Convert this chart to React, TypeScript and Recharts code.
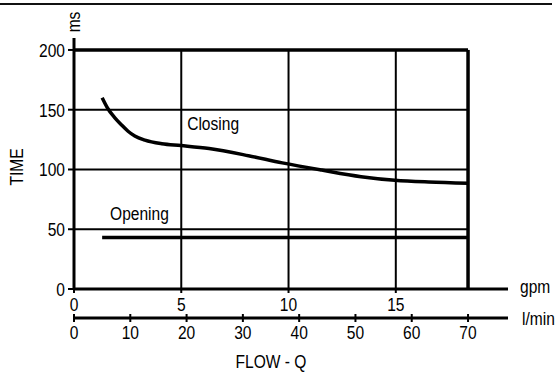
import React from 'react';
import { LineChart, Line, XAxis, YAxis, ReferenceLine, ReferenceDot } from 'recharts';

// valve response time vs flow
const closingFlow = [5, 6, 7.3, 8.5, 9.6, 10.8, 12.6, 15.6, 19, 24, 31, 37, 44, 51, 57, 63, 70];
const closingTime = [160, 151, 143, 137, 132, 128, 124.5, 121.5, 120, 117.5, 111.5, 105.5, 99.5, 94, 91, 89.5, 88.5];
const openingFlow = [5, 70];
const openingTime = [43, 43];

const timeTicks = [0, 50, 100, 150, 200];
const gpmTicks = [0, 5, 10, 15];
const lminTicks = [0, 10, 20, 30, 40, 50, 60, 70];
const gridTime = [50, 100, 150];
const gridGpm = [5, 10, 15];

const FRAME_FLOW = 70; // l/min, right edge of the box
const FRAME_TIME = 200; // ms, top edge of the box
const LMIN_MAX = 77.1; // axes run on past the box
const GPM_MAX = 20.23;
const TIME_MAX = 210;

const FONT = '"Liberation Sans", Arial, sans-serif';
const INK = '#000';
const FS = 19;
const SX = 0.82; // squeeze to look like Arial Narrow

const closingData = closingFlow.map((flow, i) => ({ flow, time: closingTime[i] }));
const openingData = openingFlow.map((flow, i) => ({ flow, time: openingTime[i] }));
const gpmData = gpmTicks.map((gpm) => ({ gpm }));

const NText = ({ x, y, anchor = 'start', rotate = 0, children }: any) => (
  <text
    transform={`translate(${x} ${y}) rotate(${rotate}) scale(${SX} 1)`}
    textAnchor={anchor}
    fontSize={FS}
    fontFamily={FONT}
    fill={INK}
  >
    {children}
  </text>
);

const YTick = ({ x, y, payload }: any) => <NText x={x} y={y + 7} anchor="end">{payload.value}</NText>;

const GpmTick = ({ x, y, payload }: any) => <NText x={x} y={y + 14} anchor="middle">{payload.value}</NText>;

const LminTick = ({ x, y, payload }: any) => (
  <g>
    <line x1={x} x2={x} y1={y - 4} y2={y + 4} stroke={INK} strokeWidth={2} />
    <NText x={x} y={y + 21} anchor="middle">{payload.value}</NText>
  </g>
);

const GpmLabel = ({ viewBox }: any) => (
  <NText x={viewBox.x + viewBox.width + 12} y={viewBox.y + 4}>gpm</NText>
);

const LminLabel = ({ viewBox }: any) => {
  const frameMid = viewBox.x + (viewBox.width * FRAME_FLOW) / LMIN_MAX / 2;
  return (
    <g>
      <NText x={viewBox.x + viewBox.width + 14} y={viewBox.y + 7}>l/min</NText>
      <NText x={frameMid} y={viewBox.y + 50} anchor="middle">FLOW - Q</NText>
    </g>
  );
};

const TimeLabel = ({ viewBox }: any) => {
  const axisX = viewBox.x + viewBox.width;
  const midY = viewBox.y + viewBox.height / 2 + 3.5;
  return (
    <g>
      <NText x={23} y={midY} anchor="middle" rotate={-90}>TIME</NText>
      <NText x={axisX + 6} y={viewBox.y - 16} anchor="middle" rotate={-90}>ms</NText>
    </g>
  );
};

const seriesLabel = (txt: string) => (p: any) => <NText x={p.viewBox.x} y={p.viewBox.y}>{txt}</NText>;

export default function App() {
  return (
    <div style={{ position: 'absolute', left: 0, top: 0, width: 555, height: 374, background: '#fff', fontFamily: FONT }}>
      <div style={{ position: 'absolute', left: 0, top: 3, width: 552, height: 2, background: '#111' }} />
      <LineChart width={555} height={374} margin={{ top: 38, right: 47, bottom: 0, left: 0 }}>
        <XAxis
          xAxisId="gpm"
          dataKey="gpm"
          type="number"
          domain={[0, GPM_MAX]}
          ticks={gpmTicks}
          interval={0}
          allowDataOverflow
          height={29}
          axisLine={{ stroke: INK, strokeWidth: 3 }}
          tickLine={{ stroke: INK, strokeWidth: 2 }}
          tickSize={4}
          tickMargin={4}
          tick={<GpmTick />}
          label={<GpmLabel />}
        />
        <XAxis
          xAxisId="lmin"
          dataKey="flow"
          type="number"
          domain={[0, LMIN_MAX]}
          ticks={lminTicks}
          interval={0}
          allowDataOverflow
          height={56}
          axisLine={{ stroke: INK, strokeWidth: 3 }}
          tickLine={false}
          tickSize={0}
          tickMargin={0}
          tick={<LminTick />}
          label={<LminLabel />}
        />
        <YAxis
          type="number"
          domain={[0, TIME_MAX]}
          ticks={timeTicks}
          interval={0}
          allowDataOverflow
          width={74}
          axisLine={{ stroke: INK, strokeWidth: 3 }}
          tickLine={{ stroke: INK, strokeWidth: 2 }}
          tickSize={6}
          tickMargin={3}
          tick={<YTick />}
          label={<TimeLabel />}
        />

        {gridTime.map((t) => (
          <ReferenceLine key={`h${t}`} xAxisId="lmin" segment={[{ x: 0, y: t }, { x: FRAME_FLOW, y: t }]} stroke={INK} strokeWidth={2} />
        ))}
        {gridGpm.map((g) => (
          <ReferenceLine key={`v${g}`} xAxisId="gpm" segment={[{ x: g, y: 0 }, { x: g, y: FRAME_TIME }]} stroke={INK} strokeWidth={2} />
        ))}
        <ReferenceLine xAxisId="lmin" segment={[{ x: 0, y: FRAME_TIME }, { x: FRAME_FLOW, y: FRAME_TIME }]} stroke={INK} strokeWidth={3.5} />
        <ReferenceLine xAxisId="lmin" segment={[{ x: FRAME_FLOW, y: 0 }, { x: FRAME_FLOW, y: FRAME_TIME }]} stroke={INK} strokeWidth={3.5} />

        {/* empty series so the gpm axis has data to tick */}
        <Line xAxisId="gpm" data={gpmData} dataKey="time" stroke="none" dot={false} isAnimationActive={false} />
        <Line xAxisId="lmin" data={closingData} dataKey="time" type="monotone" stroke={INK} strokeWidth={3.5} dot={false} isAnimationActive={false} />
        <Line xAxisId="lmin" data={openingData} dataKey="time" type="linear" stroke={INK} strokeWidth={3.5} dot={false} isAnimationActive={false} />

        <ReferenceDot xAxisId="lmin" x={20.1} y={133} r={0} fill="none" stroke="none" label={seriesLabel('Closing')} />
        <ReferenceDot xAxisId="lmin" x={6.4} y={57.7} r={0} fill="none" stroke="none" label={seriesLabel('Opening')} />
      </LineChart>
    </div>
  );
}
